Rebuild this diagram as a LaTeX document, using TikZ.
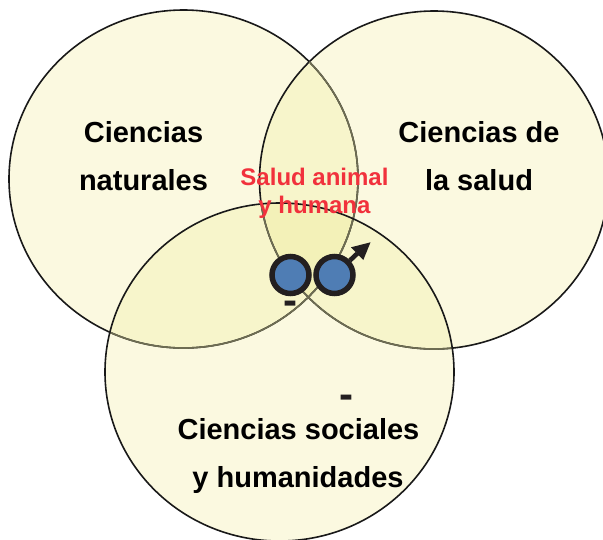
\documentclass[tikz,border=0pt]{standalone}
\usepackage{fontspec}
\setmainfont{Liberation Sans}
\definecolor{baseY}{HTML}{FBF9E0}
\definecolor{pairY}{HTML}{F7F5CB}
\definecolor{tripY}{HTML}{F3F1B8}
\definecolor{fadeLine}{HTML}{6E6D52}
\definecolor{inkK}{HTML}{231F20}
\definecolor{blueB}{HTML}{4F7DB4}
\definecolor{redT}{HTML}{F1313C}
\tikzset{
  field/.style={font=\fontsize{29}{32}\selectfont\bfseries,text=black,anchor=base,inner sep=0pt},
  overlap/.style={font=\fontsize{24}{27}\selectfont\bfseries,text=redT,anchor=base,inner sep=0pt},
  dashmark/.style={font=\fontsize{42}{44}\selectfont\bfseries,text=inkK,anchor=base,inner sep=0pt},
  ring/.style={circle,draw=inkK,line width=5.5pt,fill=blueB,minimum size=37pt,inner sep=0pt},
  rim/.style={line width=1.6pt,draw=black!90},
  fadedrim/.style={line width=1.6pt,draw=fadeLine}
}
\newcommand{\ca}{(183.5,179) ellipse [x radius=174.5pt,y radius=169pt]}
\newcommand{\cb}{(434,180) ellipse [x radius=174.5pt,y radius=169pt]}
\newcommand{\cc}{(279.5,372) ellipse [x radius=174.5pt,y radius=169pt]}
\begin{document}
\begin{tikzpicture}[x=1pt,y=-1pt]
\useasboundingbox (0,0) rectangle (603,539);
\clip (0,0) rectangle (603,539);
% fills
\fill[baseY] \ca; \fill[baseY] \cb; \fill[baseY] \cc;
\begin{scope}\clip \ca; \fill[pairY] \cb; \fill[pairY] \cc; \end{scope}
\begin{scope}\clip \cb; \fill[pairY] \cc; \end{scope}
\begin{scope}\clip \ca; \clip \cb; \fill[tripY] \cc; \end{scope}
% rims
\draw[rim] \ca; \draw[rim] \cb;
\begin{scope}\clip \cb; \draw[fadedrim] \ca; \end{scope}
\begin{scope}\clip \cc; \draw[fadedrim] \ca; \draw[fadedrim] \cb; \end{scope}
\draw[rim] \cc;
% labels
\node[field] (n1) at (143.5,142) {Ciencias};
\node[field] (n2) at (143.5,190) {naturales};
\node[field] (s1) at (479,142) {Ciencias de};
\node[field] (s2) at (479,190) {la salud};
\node[field] (h1) at (298.5,439) {Ciencias sociales};
\node[field] (h2) at (298,487) {y humanidades};
\node[overlap] (r1) at (314.5,185) {Salud animal};
\node[overlap] (r2) at (314.5,213) {y humana};
% symbols
\coordinate (tip) at (370.5,242.3);
\coordinate (h1c) at (351,247.3);
\coordinate (h2c) at (363.3,260);
\coordinate (neck) at (357.2,253.6);
\node[ring] (female) at (290.5,275) {};
\node[ring] (male) at (334.5,275) {};
\draw[inkK,line width=4.6pt] (male) -- (neck);
\fill[inkK] (tip) -- (h1c) -- (h2c) -- cycle;
\node[dashmark] (d1) at (290,314) {-};
\node[dashmark] (d2) at (346.5,408) {-};
\end{tikzpicture}
\end{document}
